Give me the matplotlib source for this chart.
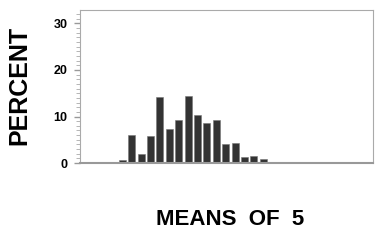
import numpy as np
import matplotlib.pyplot as plt
from matplotlib.ticker import MultipleLocator, NullLocator

# Histogram of sample means (percent per bin)
bins = np.arange(4, 21)
percent = [0.7, 6.1, 2.0, 5.9, 14.3, 7.4, 9.3, 14.4, 10.4,
           8.6, 9.3, 4.0, 4.4, 1.2, 1.5, 0.8, 0.3]

plt.rcParams['font.family'] = ['Liberation Sans', 'DejaVu Sans']

fig = plt.figure(figsize=(3.85, 2.43), dpi=100)
ax = fig.add_axes([0.208, 0.329, 0.761, 0.630])

ax.bar(bins + 0.5, percent, width=0.75, color='#333333',
       edgecolor='#777777', linewidth=0.4)

ax.set_xlim(0, 31.2)
ax.set_ylim(0, 32.9)
ax.xaxis.set_major_locator(NullLocator())
ax.yaxis.set_major_locator(MultipleLocator(10))
ax.yaxis.set_minor_locator(MultipleLocator(1))
ax.tick_params(axis='y', which='major', length=4, width=1, color='#999999',
               labelsize=9, pad=5)
ax.tick_params(axis='y', which='minor', length=3, width=0.6, color='#aaaaaa')
for lab in ax.get_yticklabels():
    lab.set_fontweight('bold')

for side in ['top', 'right', 'left']:
    ax.spines[side].set_color('#aaaaaa')
    ax.spines[side].set_linewidth(0.8)
ax.spines['bottom'].set_color('#999999')
ax.spines['bottom'].set_linewidth(1.5)

fig.text(0.05, 0.65, 'PERCENT', rotation=90, ha='center', va='center',
         fontsize=18, fontweight='bold')
fig.text(0.598, 0.095, 'MEANS  OF  5', ha='center', va='center',
         fontsize=16, fontweight='bold')

fig.savefig('out.png', dpi=100)
